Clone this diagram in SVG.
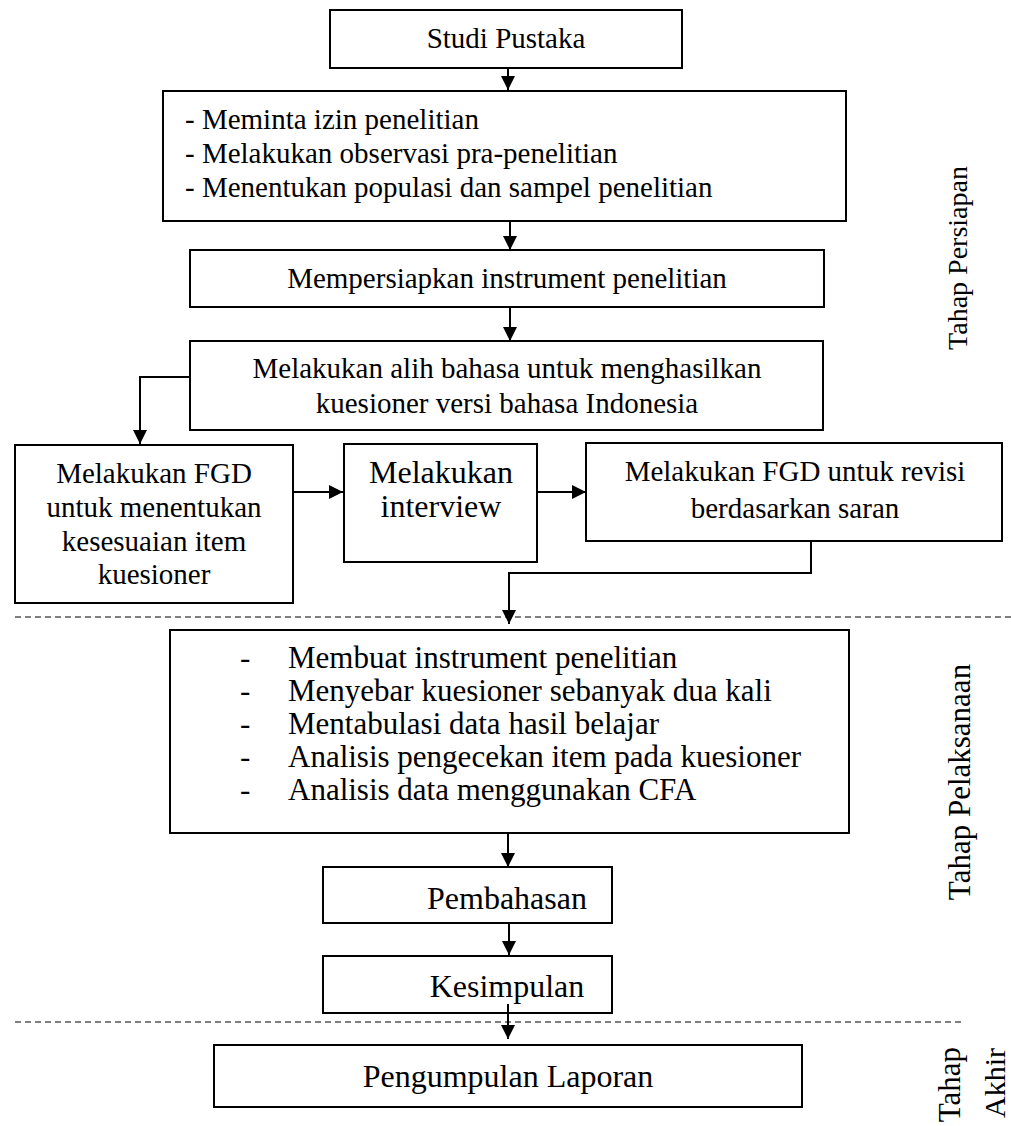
<svg xmlns="http://www.w3.org/2000/svg" width="1011" height="1126" viewBox="0 0 1011 1126">
<style>
  .box { fill: #fff; stroke: #000; stroke-width: 2; }
  .t { font-family: "Liberation Serif", "Times New Roman", serif; fill: #000; font-size: 29px; }
  .t31 { font-size: 31px; }
  .t32 { font-size: 32px; }
  .c { text-anchor: middle; }
  .con { fill: none; stroke: #000; stroke-width: 2; }
  .dash { fill: none; stroke: #000; stroke-width: 1.2; stroke-dasharray: 6 4; }
  .lab { font-family: "Liberation Serif", "Times New Roman", serif; fill: #000; }
</style>
<defs>
  <marker id="ah" viewBox="0 0 14 14" refX="14" refY="7" markerWidth="14" markerHeight="14" orient="auto" markerUnits="userSpaceOnUse">
    <path d="M0,0 L14,7 L0,14 z" fill="#000"/>
  </marker>
</defs>
<rect width="1011" height="1126" fill="#fff"/>

<g id="dividers">
  <line class="dash" x1="15" y1="617" x2="1011" y2="617"/>
  <line class="dash" x1="15" y1="1022" x2="962" y2="1022"/>
</g>

<g id="n1">
  <rect class="box" x="330" y="10" width="352" height="58"/>
  <text class="t c" x="506" y="48">Studi Pustaka</text>
</g>
<g id="n2">
  <rect class="box" x="163" y="91" width="683" height="130"/>
  <text class="t" x="185" y="129">- Meminta izin penelitian</text>
  <text class="t" x="185" y="163">- Melakukan observasi pra-penelitian</text>
  <text class="t" x="185" y="197">- Menentukan populasi dan sampel penelitian</text>
</g>
<g id="n3">
  <rect class="box" x="190" y="250" width="634" height="57"/>
  <text class="t c" x="507" y="288">Mempersiapkan instrument penelitian</text>
</g>
<g id="n4">
  <rect class="box" x="190" y="341" width="633" height="89"/>
  <text class="t c" x="507" y="378">Melakukan alih bahasa untuk menghasilkan</text>
  <text class="t c" x="507" y="413">kuesioner versi bahasa Indonesia</text>
</g>
<g id="n5">
  <rect class="box" x="15" y="445" width="278" height="158"/>
  <text class="t c" x="154" y="483">Melakukan FGD</text>
  <text class="t c" x="154" y="517">untuk menentukan</text>
  <text class="t c" x="154" y="551">kesesuaian item</text>
  <text class="t c" x="154" y="584">kuesioner</text>
</g>
<g id="n6">
  <rect class="box" x="344" y="444" width="193" height="118"/>
  <text class="t t32 c" x="441" y="483">Melakukan</text>
  <text class="t t32 c" x="441" y="517">interview</text>
</g>
<g id="n7">
  <rect class="box" x="586" y="443" width="416" height="98"/>
  <text class="t c" x="795" y="481">Melakukan FGD untuk revisi</text>
  <text class="t c" x="795" y="518">berdasarkan saran</text>
</g>
<g id="n8">
  <rect class="box" x="170" y="630" width="679" height="203"/>
  <text class="t t31" x="240" y="668">-</text>
  <text class="t t31" x="288" y="668">Membuat instrument penelitian</text>
  <text class="t t31" x="240" y="701">-</text>
  <text class="t t31" x="288" y="701">Menyebar kuesioner sebanyak dua kali</text>
  <text class="t t31" x="240" y="734">-</text>
  <text class="t t31" x="288" y="734">Mentabulasi data hasil belajar</text>
  <text class="t t31" x="240" y="767">-</text>
  <text class="t t31" x="288" y="767">Analisis pengecekan item pada kuesioner</text>
  <text class="t t31" x="240" y="800">-</text>
  <text class="t t31" x="288" y="800">Analisis data menggunakan CFA</text>
</g>
<g id="n9">
  <rect class="box" x="323" y="867" width="289" height="56"/>
  <text class="t t32 c" x="507" y="909">Pembahasan</text>
</g>
<g id="n10">
  <rect class="box" x="323" y="956" width="289" height="57"/>
  <text class="t t32 c" x="507" y="997">Kesimpulan</text>
</g>
<g id="n11">
  <rect class="box" x="214" y="1045" width="588" height="62"/>
  <text class="t t32 c" x="508" y="1087">Pengumpulan Laporan</text>
</g>

<g id="connectors">
  <path class="con" d="M508,68 L508,90" marker-end="url(#ah)"/>
  <path class="con" d="M510,221 L510,250" marker-end="url(#ah)"/>
  <path class="con" d="M510,307 L510,341" marker-end="url(#ah)"/>
  <path class="con" d="M190,377 L140,377 L140,444" marker-end="url(#ah)"/>
  <path class="con" d="M294,492 L343,492" marker-end="url(#ah)"/>
  <path class="con" d="M537,492 L586,492" marker-end="url(#ah)"/>
  <path class="con" d="M811,541 L811,573 L509,573 L509,624" marker-end="url(#ah)"/>
  <path class="con" d="M508,833 L508,867" marker-end="url(#ah)"/>
  <path class="con" d="M509,923 L509,955" marker-end="url(#ah)"/>
  <path class="con" d="M508,1004 L508,1039" marker-end="url(#ah)"/>
</g>

<g id="labels">
  <text class="lab" font-size="28" text-anchor="middle" transform="translate(967,258) rotate(-90)">Tahap Persiapan</text>
  <text class="lab" font-size="31" text-anchor="middle" transform="translate(970,782) rotate(-90)">Tahap Pelaksanaan</text>
  <text class="lab" font-size="31" text-anchor="end" transform="translate(960,1047) rotate(-90)">Tahap</text>
  <text class="lab" font-size="30" text-anchor="end" transform="translate(1005,1048) rotate(-90)">Akhir</text>
</g>
</svg>
